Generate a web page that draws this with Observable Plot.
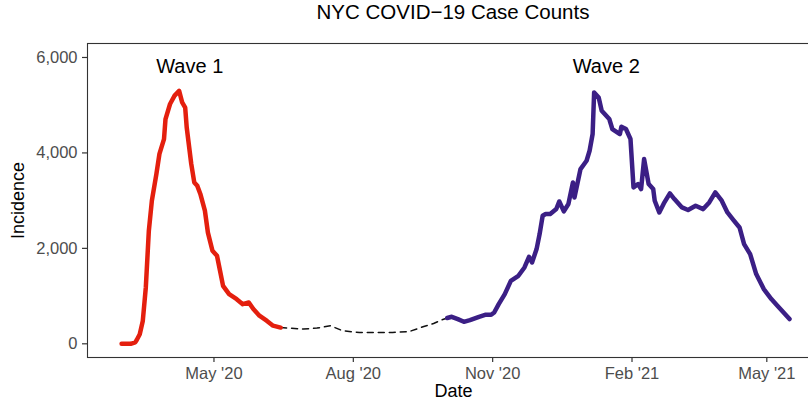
<!DOCTYPE html>
<html>
<head>
<meta charset="utf-8">
<script src="https://cdn.jsdelivr.net/npm/d3@7"></script>
<script src="https://cdn.jsdelivr.net/npm/@observablehq/plot@0.6"></script>
<style>
html, body { margin: 0; padding: 0; background: #fff; overflow: hidden; }
#title {
  width: 822px; box-sizing: border-box; padding-left: 87px; padding-right: 3px;
  height: 40px; line-height: 40px; text-align: center;
  font: 20.5px "Liberation Sans", Arial, sans-serif; color: #000;
}
#chart svg { display: block; max-width: none !important; width: 822px !important; height: 365px !important; }
</style>
</head>
<body>
<div id="title">NYC COVID−19 Case Counts</div>
<div id="chart"></div>
<script>
// wave 1 (red)
const wave1Dates = ["2020-03-01","2020-03-07","2020-03-10","2020-03-11","2020-03-13","2020-03-15","2020-03-17","2020-03-19","2020-03-21","2020-03-24","2020-03-26","2020-03-29","2020-03-30","2020-04-02","2020-04-05","2020-04-08","2020-04-10","2020-04-12","2020-04-13","2020-04-16","2020-04-18","2020-04-20","2020-04-22","2020-04-25","2020-04-27","2020-04-30","2020-05-03","2020-05-05","2020-05-07","2020-05-11","2020-05-16","2020-05-20","2020-05-24","2020-05-27","2020-05-31","2020-06-05","2020-06-09","2020-06-14"];
const wave1Values = [0,0,30,80,200,480,1180,2370,3000,3560,3980,4290,4710,5025,5200,5300,5060,4950,4535,3770,3380,3310,3140,2790,2330,1950,1845,1530,1215,1040,935,830,865,730,590,480,380,340];

// summer gap (dashed)
const gapDates = ["2020-06-14","2020-06-29","2020-07-08","2020-07-17","2020-07-25","2020-08-05","2020-08-16","2020-08-27","2020-09-07","2020-09-16","2020-09-23","2020-09-28","2020-10-02"];
const gapValues = [340,308,329,377,272,237,237,237,258,356,426,497,540];

// wave 2 (purple)
const wave2Dates = ["2020-10-02","2020-10-05","2020-10-09","2020-10-13","2020-10-17","2020-10-23","2020-10-27","2020-10-31","2020-11-02","2020-11-05","2020-11-09","2020-11-13","2020-11-18","2020-11-22","2020-11-25","2020-11-27","2020-11-30","2020-12-02","2020-12-04","2020-12-06","2020-12-09","2020-12-13","2020-12-15","2020-12-18","2020-12-21","2020-12-24","2020-12-25","2020-12-29","2021-01-02","2021-01-04","2021-01-06","2021-01-07","2021-01-10","2021-01-12","2021-01-17","2021-01-19","2021-01-24","2021-01-25","2021-01-28","2021-01-31","2021-02-02","2021-02-05","2021-02-07","2021-02-09","2021-02-12","2021-02-15","2021-02-16","2021-02-19","2021-02-22","2021-02-26","2021-03-01","2021-03-06","2021-03-10","2021-03-15","2021-03-20","2021-03-24","2021-03-28","2021-04-01","2021-04-05","2021-04-09","2021-04-13","2021-04-16","2021-04-20","2021-04-24","2021-04-29","2021-05-04","2021-05-08","2021-05-16"];
const wave2Values = [540,566,517,461,497,566,608,608,656,832,1042,1320,1425,1600,1824,1705,1985,2300,2683,2720,2720,2825,2983,2774,2929,3382,3067,3662,3836,4046,4396,5268,5163,4885,4711,4501,4396,4549,4501,4291,3277,3348,3243,3872,3348,3243,2998,2753,2942,3151,3033,2858,2803,2893,2823,2963,3172,3012,2753,2593,2438,2090,1880,1461,1147,937,797,518];

// annotations and ticks
const labelTexts = ["Wave 1", "Wave 2"];
const labelDates = ["2020-04-15", "2021-01-15"];
const labelValues = [5800, 5800];
const xTickDates = ["2020-05-01","2020-08-01","2020-11-01","2021-02-01","2021-05-01"];
const yTicks = [0, 2000, 4000, 6000];

const parse = d3.utcParse("%Y-%m-%d");
const toRows = (dates, values) => dates.map((d, i) => ({date: parse(d), value: values[i]}));
const wave1 = toRows(wave1Dates, wave1Values);
const gap = toRows(gapDates, gapValues);
const wave2 = toRows(wave2Dates, wave2Values);
const labels = labelTexts.map((t, i) => ({text: t, date: parse(labelDates[i]), value: labelValues[i]}));

const font = '"Liberation Sans", Arial, sans-serif';

const chart = Plot.plot({
  width: 822,
  height: 365,
  marginLeft: 87,
  marginRight: 3,
  marginTop: 3,
  marginBottom: 48,
  style: {fontFamily: font, background: "#fff", overflow: "visible"},
  x: {type: "utc", domain: [new Date("2020-02-07T12:00Z"), new Date("2021-06-04T19:00Z")]},
  y: {domain: [-287, 6293]},
  marks: [
    Plot.frame({stroke: "#333", strokeWidth: 1.1}),
    Plot.axisX({
      ticks: xTickDates.map(parse), tickFormat: d3.utcFormat("%b '%y"),
      tickSize: 5, tickPadding: 5, fontSize: 16.5,
      fill: "#4d4d4d", stroke: "#333", strokeWidth: 1.2, label: null
    }),
    Plot.axisY({
      ticks: yTicks, tickFormat: d3.format(","),
      tickSize: 5, tickPadding: 5, fontSize: 16.5,
      fill: "#4d4d4d", stroke: "#333", strokeWidth: 1.2, label: null
    }),
    Plot.line(gap, {x: "date", y: "value", stroke: "#111", strokeWidth: 1.5, strokeDasharray: "6,5"}),
    Plot.line(wave1, {x: "date", y: "value", stroke: "#e41f0e", strokeWidth: 4.5, strokeLinejoin: "round"}),
    Plot.line(wave2, {x: "date", y: "value", stroke: "#3b1f85", strokeWidth: 4.5, strokeLinejoin: "round"}),
    Plot.text(labels, {x: "date", y: "value", text: "text", fontSize: 20, fill: "#000"}),
    Plot.text(["Date"], {text: d => d, frameAnchor: "bottom", dy: 39, fontSize: 18, fill: "#000"}),
    Plot.text(["Incidence"], {text: d => d, frameAnchor: "left", textAnchor: "middle", dx: -69, rotate: -90, fontSize: 18, fill: "#000"})
  ]
});

document.getElementById("chart").append(chart);
</script>
</body>
</html>
